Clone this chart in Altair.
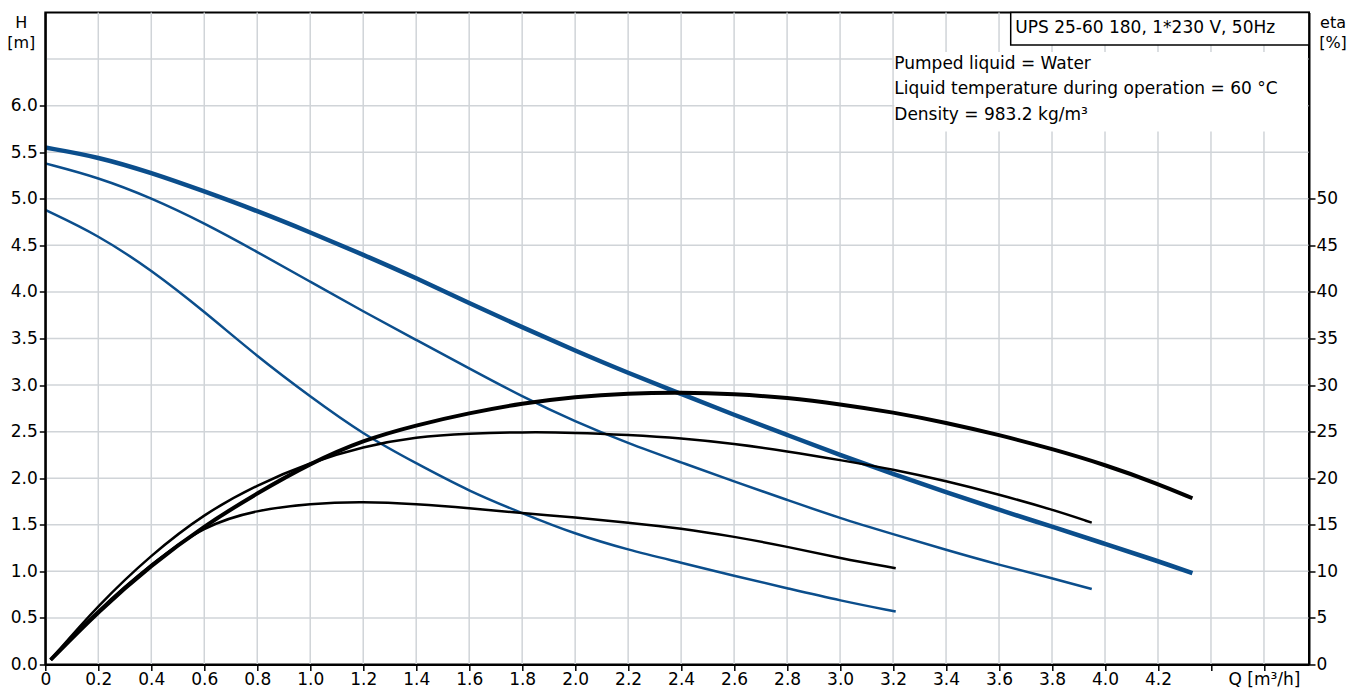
import json
import altair as alt
import pandas as pd

# ---------------- data ----------------
# head curves H [m] (three speeds)
Q_H3 = [0.0, 0.2, 0.4, 0.6, 0.8, 1.0, 1.2, 1.4, 1.6, 1.8, 2.0, 2.2, 2.4, 2.6, 2.8, 3.0, 3.2, 3.4, 3.6, 3.8, 4.0, 4.2, 4.33]
H3 = [5.55, 5.45, 5.28, 5.08, 4.87, 4.64, 4.40, 4.15, 3.88, 3.62, 3.37, 3.13, 2.905, 2.68, 2.465, 2.25, 2.045, 1.85, 1.66, 1.48, 1.295, 1.11, 0.98]

Q_H2 = [0.0, 0.2, 0.4, 0.6, 0.8, 1.0, 1.2, 1.4, 1.6, 1.8, 2.0, 2.2, 2.4, 2.6, 2.8, 3.0, 3.2, 3.4, 3.6, 3.8, 3.95]
H2 = [5.38, 5.23, 5.01, 4.74, 4.43, 4.11, 3.79, 3.485, 3.18, 2.876, 2.608, 2.375, 2.17, 1.964, 1.767, 1.57, 1.40, 1.23, 1.07, 0.926, 0.81]

Q_H1 = [0.0, 0.2, 0.4, 0.6, 0.8, 1.0, 1.2, 1.4, 1.6, 1.8, 2.0, 2.2, 2.4, 2.6, 2.8, 3.0, 3.21]
H1 = [4.88, 4.61, 4.236, 3.79, 3.306, 2.876, 2.47, 2.16, 1.86, 1.624, 1.40, 1.23, 1.094, 0.951, 0.819, 0.686, 0.568]

# efficiency curves eta [%]
Q_E3 = [0.02, 0.2, 0.4, 0.6, 0.8, 1.0, 1.2, 1.4, 1.6, 1.8, 2.0, 2.2, 2.4, 2.6, 2.8, 3.0, 3.2, 3.4, 3.6, 3.8, 4.0, 4.2, 4.33]
E3 = [0.5, 5.7, 10.7, 14.9, 18.4, 21.6, 24.1, 25.7, 27.0, 28.05, 28.76, 29.12, 29.23, 29.05, 28.65, 27.95, 27.08, 25.97, 24.65, 23.15, 21.45, 19.4, 17.85]

Q_E2 = [0.02, 0.2, 0.4, 0.6, 0.8, 1.0, 1.2, 1.4, 1.6, 1.8, 2.0, 2.2, 2.4, 2.6, 2.8, 3.0, 3.2, 3.4, 3.6, 3.8, 3.95]
E2 = [0.5, 6.4, 11.8, 16.2, 19.3, 21.7, 23.4, 24.45, 24.8, 24.95, 24.9, 24.65, 24.3, 23.7, 22.9, 21.95, 20.95, 19.7, 18.25, 16.65, 15.23]

Q_E1 = [0.02, 0.2, 0.4, 0.6, 0.8, 1.0, 1.2, 1.4, 1.6, 1.8, 2.0, 2.2, 2.4, 2.6, 2.8, 3.0, 3.21]
E1 = [0.5, 5.9, 10.8, 14.95, 16.6, 17.3, 17.49, 17.24, 16.8, 16.24, 15.8, 15.23, 14.63, 13.73, 12.66, 11.41, 10.34]

# axes / grid
X_TICKS = [round(0.2 * i, 1) for i in range(24)]          # 0 .. 4.6
X_TICK_LABELS = ["0", "0.2", "0.4", "0.6", "0.8", "1.0", "1.2", "1.4", "1.6", "1.8", "2.0",
                 "2.2", "2.4", "2.6", "2.8", "3.0", "3.2", "3.4", "3.6", "3.8", "4.0", "4.2",
                 "", "Q [m³/h]"]
X_GRID = [round(0.2 * i, 1) for i in range(1, 24)]
H_TICKS = [round(0.5 * i, 1) for i in range(13)]            # 0 .. 6.0
H_GRID = [round(0.5 * i, 1) for i in range(1, 14)]          # 0.5 .. 6.5
ETA_TICKS = [5 * i for i in range(11)]                      # 0 .. 50

TITLE_BOX = ["UPS 25-60 180, 1*230 V, 50Hz"]
INFO_LINES = ["Pumped liquid = Water",
              "Liquid temperature during operation = 60 °C",
              "Density = 983.2 kg/m³"]
LEFT_TITLE = ["H", "[m]"]
RIGHT_TITLE = ["eta", "[%]"]

# ---------------- style ----------------
FONT = "DejaVu Sans"
BLUE = "#0b4e8c"
GRID = "#d0d4d8"
W, Hh = 1263.7, 652
LBL = 17

xs = alt.Scale(domain=[0, 4.77], nice=False, zero=False)
ys_h = alt.Scale(domain=[0, 7], nice=False, zero=False)
ys_e = alt.Scale(domain=[0, 70], nice=False, zero=False)

label_expr = json.dumps(X_TICK_LABELS) + "[round(datum.value / 0.2)]"

x_axis = alt.Axis(values=X_TICKS, labelExpr=label_expr, title=None, grid=False,
                  labelFont=FONT, labelFontSize=LBL, labelColor="black",
                  tickColor="black", tickWidth=1.5, tickSize=6, labelPadding=1,
                  domainColor="black", domainWidth=2, labelFlush=False,
                  labelOverlap=False, zindex=1)
h_axis = alt.Axis(values=H_TICKS, format=".1f", title=None, grid=False, orient="left",
                  labelFont=FONT, labelFontSize=LBL, labelColor="black",
                  tickColor="black", tickWidth=1.5, tickSize=6, labelPadding=2,
                  domainColor="black", domainWidth=2, labelFlush=False,
                  labelOverlap=False, zindex=1)
e_axis = alt.Axis(values=ETA_TICKS, format="d", title=None, grid=False, orient="right",
                  labelFont=FONT, labelFontSize=LBL, labelColor="black",
                  tickColor="black", tickWidth=1.5, tickSize=6, labelPadding=1,
                  domainColor="black", domainWidth=2, labelFlush=False,
                  labelOverlap=False, zindex=1)

# grid
vgrid = alt.Chart(pd.DataFrame({"Q": X_GRID})).mark_rule(color=GRID, strokeWidth=1.5).encode(
    x=alt.X("Q:Q", scale=xs, axis=x_axis))
hgrid = alt.Chart(pd.DataFrame({"H": H_GRID})).mark_rule(color=GRID, strokeWidth=1.5).encode(
    y=alt.Y("H:Q", scale=ys_h, axis=h_axis))
egrid_axis = alt.Chart(pd.DataFrame({"eta": [0, 50]})).mark_point(opacity=0).encode(
    y=alt.Y("eta:Q", scale=ys_e, axis=e_axis))

# info background and title box
info_bg = alt.Chart(pd.DataFrame({"k": [0]})).mark_rect(fill="white", stroke=None).encode(
    x=alt.value(849), x2=alt.value(1262), y=alt.value(39.5), y2=alt.value(119))
title_box = alt.Chart(pd.DataFrame({"k": [0]})).mark_rect(fill="white", stroke="black", strokeWidth=1.5).encode(
    x=alt.value(965.4), x2=alt.value(W), y=alt.value(0), y2=alt.value(32.5))


def hline(q, v, width):
    df = pd.DataFrame({"Q": q, "H": v})
    return alt.Chart(df).mark_line(color=BLUE, strokeWidth=width, interpolate="basis").encode(
        x=alt.X("Q:Q", scale=xs), y=alt.Y("H:Q", scale=ys_h, axis=None))


def eline(q, v, width):
    df = pd.DataFrame({"Q": q, "eta": v})
    return alt.Chart(df).mark_line(color="black", strokeWidth=width, interpolate="basis").encode(
        x=alt.X("Q:Q", scale=xs), y=alt.Y("eta:Q", scale=ys_e, axis=None))


def text_at(t, x, y, align="left", size=17):
    return alt.Chart(pd.DataFrame({"t": [t]})).mark_text(
        font=FONT, fontSize=size, color="black", align=align, baseline="alphabetic").encode(
        x=alt.value(x), y=alt.value(y), text="t:N")


texts = [
    text_at(TITLE_BOX[0], 970, 20.5),
    text_at(INFO_LINES[0], 849, 56),
    text_at(INFO_LINES[1], 849, 81),
    text_at(INFO_LINES[2], 849, 107),
    text_at(LEFT_TITLE[0], -24, 15.8, align="center", size=16),
    text_at(LEFT_TITLE[1], -24, 35, align="center", size=16),
    text_at(RIGHT_TITLE[0], W + 24, 15.8, align="center", size=16),
    text_at(RIGHT_TITLE[1], W + 24, 35, align="center", size=16),
]

chart = alt.layer(
    vgrid, hgrid, egrid_axis, info_bg, title_box,
    hline(Q_H1, H1, 2.5), hline(Q_H2, H2, 2.5), hline(Q_H3, H3, 4.5),
    eline(Q_E1, E1, 2.5), eline(Q_E2, E2, 2.5), eline(Q_E3, E3, 4),
    *texts,
).resolve_scale(y="independent").properties(
    width=W, height=Hh,
    padding={"left": 37.3, "top": 4.5, "right": 46, "bottom": 26},
    autosize=alt.AutoSizeParams(type="none"),
).configure_view(stroke="black", strokeWidth=2)

chart.save("out.html", embed_options={"renderer": "svg", "actions": False})
